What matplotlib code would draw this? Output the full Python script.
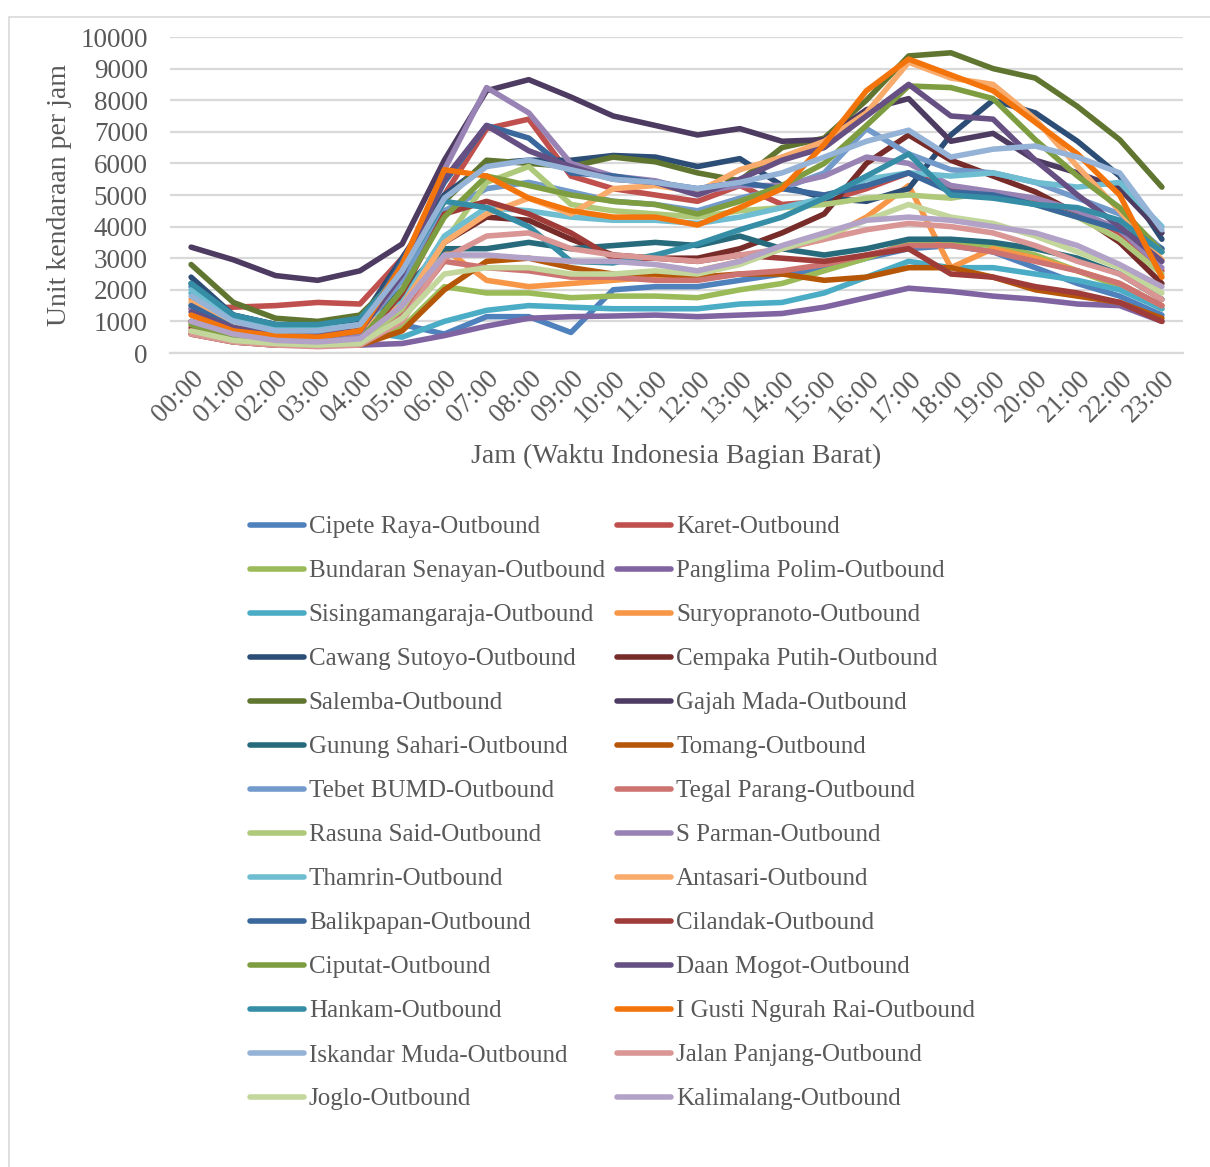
import colorsys
import matplotlib
matplotlib.use("Agg")
import matplotlib.pyplot as plt
from matplotlib.colors import to_rgb
from matplotlib.patches import Rectangle

plt.rcParams['font.family'] = ['Liberation Serif', 'DejaVu Serif']

hours = [f"{h:02d}:00" for h in range(24)]

cipete_raya = [2100, 1200, 900, 850, 1100, 900, 600, 1150, 1150, 650, 2000, 2100, 2100, 2300, 2500, 2650, 3000, 3300, 3400, 3200, 2700, 2200, 1800, 1200]
karet = [1400, 1450, 1500, 1600, 1550, 3000, 5000, 7100, 7400, 5600, 5200, 5000, 4800, 5300, 4700, 4800, 5200, 5700, 5200, 5000, 4800, 4500, 3800, 2600]
bundaran_senayan = [1000, 500, 300, 250, 300, 800, 2100, 1900, 1900, 1750, 1800, 1800, 1750, 2000, 2200, 2600, 3000, 3500, 3500, 3400, 3100, 2600, 2100, 1400]
panglima_polim = [600, 350, 250, 250, 250, 300, 550, 850, 1100, 1150, 1170, 1200, 1150, 1200, 1250, 1450, 1750, 2050, 1950, 1800, 1700, 1550, 1500, 1000]
sisingamangaraja = [1900, 900, 600, 600, 700, 500, 1000, 1350, 1500, 1450, 1400, 1400, 1400, 1550, 1600, 1900, 2400, 2900, 2700, 2700, 2500, 2300, 2000, 1400]
suryopranoto = [1700, 900, 600, 550, 700, 1500, 3300, 2300, 2100, 2200, 2300, 2400, 2600, 2900, 3300, 3600, 4300, 5300, 2700, 3300, 3000, 2600, 2200, 1500]
cawang_sutoyo = [2400, 1200, 900, 800, 1000, 3000, 5000, 6000, 6100, 6100, 6250, 6200, 5900, 6150, 5300, 4900, 4800, 5200, 6900, 8000, 7600, 6700, 5600, 3600]
cempaka_putih = [1000, 550, 400, 350, 400, 1800, 3500, 4300, 4200, 3600, 3100, 3000, 3000, 3300, 3800, 4400, 6000, 6900, 6100, 5600, 5100, 4400, 3500, 2200]
salemba = [2800, 1600, 1100, 1000, 1200, 2500, 4800, 6100, 6000, 5900, 6200, 6050, 5700, 5450, 6500, 6800, 8000, 9400, 9500, 9000, 8700, 7800, 6750, 5250]
gajah_mada = [3350, 2950, 2450, 2300, 2600, 3450, 6100, 8300, 8650, 8100, 7500, 7200, 6900, 7100, 6700, 6750, 7700, 8050, 6700, 6950, 6100, 5700, 5200, 3800]
gunung_sahari = [2200, 1100, 700, 650, 800, 2000, 3300, 3300, 3500, 3300, 3400, 3500, 3400, 3700, 3300, 3100, 3300, 3600, 3600, 3500, 3300, 3000, 2500, 1700]
tomang = [600, 350, 250, 250, 250, 700, 2000, 2900, 3000, 2700, 2500, 2500, 2400, 2500, 2500, 2300, 2400, 2700, 2700, 2400, 2000, 1800, 1600, 1100]
tebet_bumd = [1500, 800, 600, 550, 700, 2300, 4500, 5200, 5400, 5100, 4800, 4700, 4500, 4900, 5200, 5700, 7100, 6300, 5800, 5700, 5400, 4900, 4400, 3300]
tegal_parang = [700, 400, 300, 250, 300, 1200, 2900, 2700, 2600, 2400, 2400, 2300, 2300, 2500, 2600, 2800, 3100, 3400, 3400, 3200, 2900, 2600, 2200, 1500]
rasuna_said = [900, 500, 350, 300, 350, 1400, 3500, 5400, 5900, 4700, 4500, 4400, 4300, 4500, 4600, 4700, 4900, 5000, 4900, 5100, 4700, 4300, 3600, 2500]
s_parman = [1400, 700, 500, 450, 600, 2500, 5800, 8400, 7600, 6000, 5600, 5450, 5100, 5300, 5300, 5600, 6200, 6000, 5300, 5100, 4900, 4500, 3900, 2700]
thamrin = [2000, 1100, 800, 750, 900, 1600, 3700, 4600, 4500, 4300, 4200, 4200, 4100, 4300, 4600, 4900, 5500, 5700, 5600, 5700, 5400, 5250, 5400, 4000]
antasari = [1600, 900, 650, 600, 800, 1500, 3500, 4400, 4900, 4400, 5200, 5300, 5100, 5800, 6200, 6700, 7600, 9200, 8700, 8500, 7400, 5900, 4500, 2950]
balikpapan = [1500, 800, 600, 500, 700, 2900, 5400, 7200, 6800, 5700, 5600, 5400, 5200, 5400, 5200, 5000, 5300, 5700, 5100, 5000, 4700, 4300, 3900, 3300]
cilandak = [800, 500, 350, 300, 350, 1900, 4400, 4800, 4400, 3800, 3000, 3000, 2900, 3100, 3000, 2900, 3100, 3300, 2500, 2400, 2100, 1900, 1600, 1000]
ciputat = [900, 500, 350, 300, 400, 2000, 4300, 5600, 5300, 5000, 4800, 4700, 4400, 4800, 5300, 6000, 7200, 8450, 8400, 8050, 6750, 5600, 4600, 3200]
daan_mogot = [1300, 800, 600, 600, 700, 2500, 5500, 7200, 6400, 5900, 5500, 5400, 5000, 5500, 6100, 6500, 7500, 8500, 7500, 7400, 6100, 5000, 4000, 2900]
hankam = [2200, 1200, 900, 900, 1100, 2600, 4800, 4600, 4000, 2900, 2850, 3100, 3450, 3900, 4300, 4900, 5600, 6300, 5000, 4900, 4700, 4600, 4200, 3200]
i_gusti_ngurah_rai = [1200, 700, 550, 500, 700, 2800, 5800, 5600, 4900, 4500, 4300, 4300, 4050, 4600, 5200, 6600, 8300, 9300, 8800, 8300, 7300, 6300, 5000, 2400]
iskandar_muda = [1800, 1000, 700, 700, 900, 2600, 4900, 5900, 6100, 5800, 5500, 5400, 5200, 5400, 5700, 6200, 6700, 7050, 6200, 6450, 6550, 6200, 5700, 3900]
jalan_panjang = [600, 350, 250, 200, 250, 1000, 3000, 3700, 3800, 3300, 3100, 3000, 2900, 3100, 3300, 3600, 3900, 4100, 4000, 3800, 3400, 2900, 2500, 1700]
joglo = [700, 400, 300, 250, 300, 1100, 2500, 2700, 2700, 2500, 2500, 2600, 2500, 2800, 3300, 3700, 4200, 4700, 4300, 4100, 3700, 3200, 2700, 1900]
kalimalang = [1000, 600, 400, 350, 450, 1500, 3100, 3100, 3000, 2900, 2900, 2800, 2600, 2900, 3400, 3800, 4200, 4300, 4200, 4000, 3800, 3400, 2800, 2100]

series_names = [
    "Cipete Raya-Outbound", "Karet-Outbound", "Bundaran Senayan-Outbound",
    "Panglima Polim-Outbound", "Sisingamangaraja-Outbound", "Suryopranoto-Outbound",
    "Cawang Sutoyo-Outbound", "Cempaka Putih-Outbound", "Salemba-Outbound",
    "Gajah Mada-Outbound", "Gunung Sahari-Outbound", "Tomang-Outbound",
    "Tebet BUMD-Outbound", "Tegal Parang-Outbound", "Rasuna Said-Outbound",
    "S Parman-Outbound", "Thamrin-Outbound", "Antasari-Outbound",
    "Balikpapan-Outbound", "Cilandak-Outbound", "Ciputat-Outbound",
    "Daan Mogot-Outbound", "Hankam-Outbound", "I Gusti Ngurah Rai-Outbound",
    "Iskandar Muda-Outbound", "Jalan Panjang-Outbound", "Joglo-Outbound",
    "Kalimalang-Outbound",
]
series_values = [
    cipete_raya, karet, bundaran_senayan, panglima_polim, sisingamangaraja,
    suryopranoto, cawang_sutoyo, cempaka_putih, salemba, gajah_mada,
    gunung_sahari, tomang, tebet_bumd, tegal_parang, rasuna_said, s_parman,
    thamrin, antasari, balikpapan, cilandak, ciputat, daan_mogot, hankam,
    i_gusti_ngurah_rai, iskandar_muda, jalan_panjang, joglo, kalimalang,
]

# Office theme accents, shaded per group of six series
accents = ["#4F81BD", "#C0504D", "#9BBB59", "#8064A2", "#4BACC6", "#F79646"]
shades = [(1.0, 0.0), (0.6, 0.0), (0.8, 0.2), (0.8, 0.0), (0.6, 0.4)]


def shade(hex_color, mod, off):
    h, l, s = colorsys.rgb_to_hls(*to_rgb(hex_color))
    l = min(1.0, l * mod + off)
    return colorsys.hls_to_rgb(h, l, s)


colors = [shade(accents[i % 6], *shades[i // 6]) for i in range(len(series_names))]

text_color = "#595959"
grid_color = "#D9D9D9"

W, H = 1210, 1167
fig = plt.figure(figsize=(W / 100, H / 100), dpi=100)
ax = fig.add_axes([170 / W, 1 - 353 / H, (1183 - 170) / W, (353 - 37) / H])

x = list(range(len(hours)))
lines = []
for name, vals, col in zip(series_names, series_values, colors):
    ln, = ax.plot(x, vals, color=col, lw=4.0, solid_capstyle="round",
                  solid_joinstyle="round", label=name)
    lines.append(ln)

ax.set_xlim(-0.5, len(hours) - 0.5)
ax.set_ylim(0, 10000)
ax.set_yticks(range(0, 10001, 1000))
ax.set_yticklabels([str(v) for v in range(0, 10001, 1000)])
ax.set_xticks(x)
ax.set_xticklabels(hours, rotation=45, ha="right", va="top", rotation_mode="anchor")
ax.yaxis.grid(True, color=grid_color, lw=1.6)
ax.set_axisbelow(True)
for sp in ["top", "right", "left"]:
    ax.spines[sp].set_visible(False)
ax.spines["bottom"].set_color(grid_color)
ax.spines["bottom"].set_linewidth(1.6)
ax.tick_params(axis="both", length=0, labelsize=19.5, colors=text_color)
ax.tick_params(axis="y", pad=16)
ax.tick_params(axis="x", pad=9)

ax.set_xlabel("Jam (Waktu Indonesia Bagian Barat)", fontsize=20, color=text_color, va="center")
ax.xaxis.set_label_coords(0.5, (353 - 456) / (353 - 37))
ax.set_ylabel("Unit kendaraan per jam", fontsize=20, color=text_color, va="center")
ax.yaxis.set_label_coords((60 - 170) / (1183 - 170), 0.5)

# Legend: two columns, entries running across rows
order = list(range(0, len(lines), 2)) + list(range(1, len(lines), 2))
leg = fig.legend([lines[i] for i in order], [series_names[i] for i in order],
                 ncol=2, loc="upper left", bbox_to_anchor=(250 / W, 1 - 516 / H),
                 frameon=False, fontsize=18, handlelength=2.15, handletextpad=0.2,
                 columnspacing=0.5, labelspacing=0.86, borderpad=0, borderaxespad=0)
for t in leg.get_texts():
    t.set_color(text_color)

# Chart area border
fig.patches.append(Rectangle((9 / W, -0.1), 1.2, 1 - 17 / H + 0.1, transform=fig.transFigure,
                             fill=False, edgecolor=grid_color, lw=1.2))

fig.savefig("out.png", dpi=100)
